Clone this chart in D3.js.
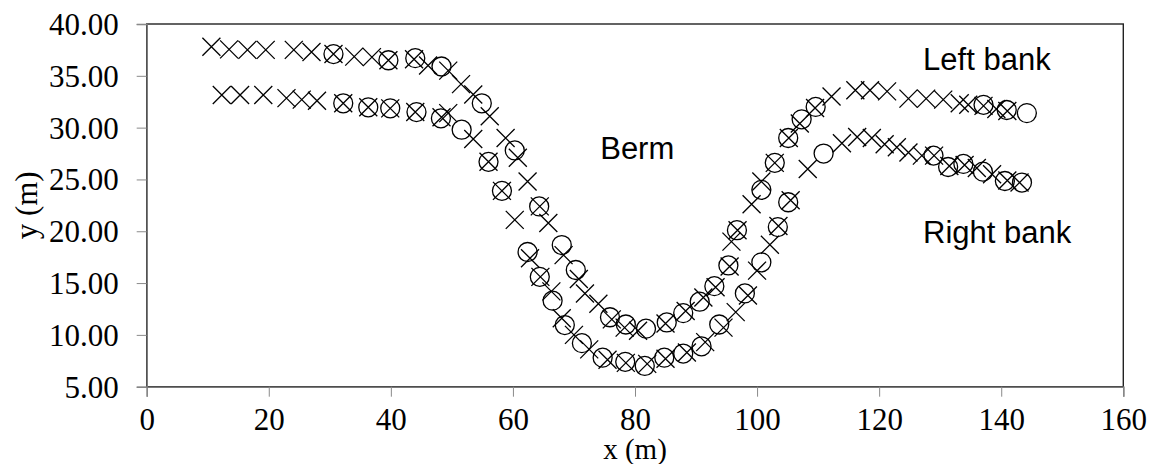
<!DOCTYPE html>
<html>
<head>
<meta charset="utf-8">
<script src="https://cdn.jsdelivr.net/npm/d3@7"></script>
<style>
  html, body { margin: 0; padding: 0; background: #fff; }
  svg { display: block; }
</style>
</head>
<body>
<svg id="chart" width="1153" height="464"></svg>
<script>
// Bank survey points in plan view (x, y in metres)
const leftBankCross = [
  [10.6,37.8],[13.5,37.55],[16.5,37.5],[19.5,37.5],[24.1,37.5],[27.0,37.3],[30.6,37.1],
  [34.0,36.85],[36.9,36.8],[39.6,36.5],[43.8,36.6],[46.1,36.0],[49.4,35.5],[51.5,34.2],
  [53.5,33.2],[56.2,31.1],[58.8,29.0],[60.8,27.1],[62.4,24.8],[64.4,22.4],[65.8,20.8],
  [68.3,17.7],[70.8,15.4],[71.8,14.0],[74.0,13.0],[76.2,11.5],[78.3,10.7],[80.5,10.4],
  [85.0,11.1],[88.3,12.3],[91.2,13.6],[93.2,14.6],[95.5,16.6],[95.8,19.0],[96.8,20.1],
  [99.1,22.6],[100.7,24.8],[102.9,26.6],[105.2,29.0],[107.0,30.4],[109.5,31.9],
  [112.2,33.0],[116.1,33.6],[118.5,33.6],[121.3,33.5],[124.8,32.8],[127.7,32.8],
  [130.5,32.7],[133.2,32.35],[134.6,32.2],[137.1,32.1],[139.2,31.8],[141.0,31.6]
];
const leftBankCircle = [
  [30.6,37.1],[39.6,36.5],[44.0,36.7],[48.3,35.9],[54.9,32.35],[60.3,27.8],[64.3,22.4],
  [68.0,18.67],[70.3,16.26],[75.9,11.7],[78.5,11.0],[81.8,10.6],[85.2,11.2],[87.9,12.1],
  [90.6,13.2],[93.0,14.7],[95.3,16.7],[96.7,20.1],[100.7,24.0],[102.9,26.6],[105.1,29.0],
  [107.3,30.8],[109.6,32.0],[137.1,32.2],[140.9,31.7],[144.2,31.4]
];
const rightBankCross = [
  [12.3,33.15],[15.3,33.15],[19.1,33.15],[22.9,32.85],[25.4,32.7],[27.9,32.6],[32.2,32.35],
  [36.3,31.96],[39.9,31.86],[44.0,31.5],[48.3,31.0],[49.4,31.4],[53.5,28.9],[56.0,26.7],
  [58.2,23.9],[60.3,21.1],[62.8,17.4],[64.5,15.6],[66.3,14.2],[68.0,11.6],[70.0,10.0],
  [72.5,8.6],[75.5,7.6],[78.5,7.3],[82.0,7.2],[85.0,7.7],[88.5,8.3],[91.5,9.3],
  [94.5,10.7],[96.5,12.2],[98.5,13.8],[100.0,16.2],[102.1,18.7],[103.5,20.5],[105.5,23.0],
  [108.3,26.0],[113.9,28.5],[116.4,29.1],[118.8,29.0],[120.9,28.4],[122.9,28.1],
  [124.8,27.6],[127.0,27.3],[129.0,27.3],[131.5,26.3],[134.0,26.4],[136.0,26.1],
  [138.5,25.5],[141.0,24.9],[143.0,24.7]
];
const rightBankCircle = [
  [32.2,32.35],[36.3,31.96],[39.9,31.86],[44.2,31.5],[48.2,30.9],[51.6,29.8],[56.0,26.7],
  [58.2,23.9],[62.4,18.0],[64.4,15.6],[66.5,13.3],[68.5,10.95],[71.3,9.2],[74.7,7.8],
  [78.4,7.4],[81.6,7.0],[84.8,7.8],[87.9,8.2],[90.9,8.9],[93.8,11.0],[98.0,14.0],
  [100.7,17.0],[103.4,20.4],[105.1,22.8],[110.9,27.5],[128.9,27.3],[131.3,26.2],
  [133.8,26.5],[137.0,25.75],[140.6,24.85],[143.4,24.7]
];
const xTicks = [0, 20, 40, 60, 80, 100, 120, 140, 160];
const yTicks = [5, 10, 15, 20, 25, 30, 35, 40];
const labels = [
  { text: "Berm", x: 74.3, y: 27.0 },
  { text: "Left bank", x: 127.2, y: 35.55 },
  { text: "Right bank", x: 127.2, y: 18.9 }
];

const svg = d3.select("#chart");
const m = { left: 146.7, right: 1123.3, top: 24, bottom: 386.7 };

const x = d3.scaleLinear().domain([0, 160]).range([m.left, m.right]);
const y = d3.scaleLinear().domain([5, 40]).range([m.bottom, m.top]);

const serif = "'Liberation Serif', 'Times New Roman', serif";
const sans = "'Liberation Sans', Arial, sans-serif";

// plot frame (top / right edges)
svg.append("rect")
  .attr("x", m.left).attr("y", m.top)
  .attr("width", m.right - m.left).attr("height", m.bottom - m.top)
  .attr("fill", "none").attr("stroke", "#222").attr("stroke-width", 1.4);

// axes
const xAxis = svg.append("g")
  .attr("transform", `translate(0,${m.bottom})`)
  .call(d3.axisBottom(x).tickValues(xTicks).tickSize(10).tickPadding(13).tickFormat(d3.format("d")));
const yAxis = svg.append("g")
  .attr("transform", `translate(${m.left},0)`)
  .call(d3.axisLeft(y).tickValues(yTicks).tickSize(10).tickPadding(18).tickFormat(d3.format(".2f")));

[xAxis, yAxis].forEach(g => {
  g.select(".domain").attr("stroke", "#7a7a7a").attr("stroke-width", 1.5);
  g.selectAll(".tick line").attr("stroke", "#8a8a8a").attr("stroke-width", 1);
  g.selectAll(".tick text")
    .attr("fill", "#000")
    .style("font-family", serif)
    .style("font-size", "31px");
});
yAxis.selectAll(".tick text").attr("dy", "0.34em");
xAxis.selectAll(".tick text").attr("dy", "0.64em");

// axis titles
svg.append("text")
  .attr("x", (m.left + m.right) / 2).attr("y", 459)
  .attr("text-anchor", "middle")
  .style("font-family", serif).style("font-size", "29px")
  .text("x (m)");
svg.append("text")
  .attr("transform", `translate(37,${(m.top + m.bottom) / 2}) rotate(-90)`)
  .attr("text-anchor", "middle")
  .style("font-family", serif).style("font-size", "31px")
  .text("y (m)");

// markers
const crossPath = "M-9,-9L9,9M-9,9L9,-9";
const marks = svg.append("g").attr("fill", "none").attr("stroke", "#000").attr("stroke-width", 1.3);

[leftBankCross, rightBankCross].forEach(series => {
  marks.append("g").selectAll("path")
    .data(series).join("path")
    .attr("d", crossPath)
    .attr("transform", d => `translate(${x(d[0])},${y(d[1])})`);
});
[leftBankCircle, rightBankCircle].forEach(series => {
  marks.append("g").selectAll("circle")
    .data(series).join("circle")
    .attr("cx", d => x(d[0])).attr("cy", d => y(d[1]))
    .attr("r", 9.5);
});

// annotations
svg.append("g").selectAll("text")
  .data(labels).join("text")
  .attr("x", d => x(d.x)).attr("y", d => y(d.y))
  .style("font-family", sans).style("font-size", "31px")
  .attr("fill", "#000")
  .text(d => d.text);
</script>
</body>
</html>
